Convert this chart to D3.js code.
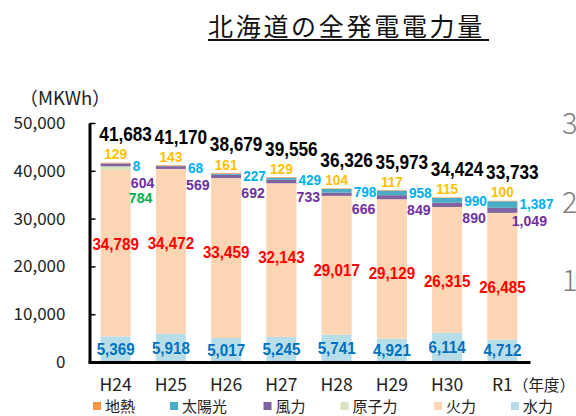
<!DOCTYPE html>
<html><head><meta charset="utf-8">
<script src="https://cdn.jsdelivr.net/npm/d3@7"></script>
<style>body{margin:0;background:#fff;}svg{display:block;}</style>
</head><body>
<script>
const categories = ["H24","H25","H26","H27","H28","H29","H30","R1"];
const hydro      = [5369,5918,5017,5245,5741,4921,6114,4712];
const thermal    = [34789,34472,33459,32143,29017,29129,26315,26485];
const nuclear    = [784,0,0,0,0,0,0,0];
const wind       = [604,569,692,733,666,849,890,1049];
const solar      = [8,68,227,429,798,958,990,1387];
const geothermal = [129,143,161,129,104,117,115,100];
const totals     = [41683,41170,38679,39556,36326,35973,34424,33733];
const yTicks     = [0,10000,20000,30000,40000,50000];
const seriesKeys  = ["hydro","thermal","nuclear","wind","solar","geothermal"];
const seriesNames = ["水力","火力","原子力","風力","太陽光","地熱"];
const legendOrder = ["geothermal","solar","wind","nuclear","thermal","hydro"];
const title = "北海道の全発電電力量";
const unitLabel = "（MKWh）";
const yearLabel = "（年度）";
const sideDigits = ["3","2","1"];

const fillColors = {hydro:"#b7dee8", thermal:"#fcd5b5", nuclear:"#d7e4bd", wind:"#8064a2", solar:"#4bacc6", geothermal:"#f79646"};
const labelColors = {hydro:"#0070c0", thermal:"#ff0000", nuclear:"#00b050", wind:"#7030a0", solar:"#00b0f0", geothermal:"#ffc000"};

const W = 576, H = 416;
const JP = "'Noto Sans CJK JP','Noto Sans',sans-serif";
const NUM = "'Liberation Sans',Arial,sans-serif";
const fmt = d3.format(",");

const svg = d3.select("body").append("svg").attr("width", W).attr("height", H);

const x = d3.scaleBand().domain(categories).range([88, 530]).paddingInner(0.457).paddingOuter(0.2285);
const y = d3.scaleLinear().domain([0, 50000]).range([362, 123]);

const rows = categories.map((c, i) => ({
  cat: c, hydro: hydro[i], thermal: thermal[i], nuclear: nuclear[i],
  wind: wind[i], solar: solar[i], geothermal: geothermal[i], total: totals[i]
}));
const stacked = d3.stack().keys(seriesKeys)(rows);

// Title
svg.append("text").attr("x", 346.5).attr("y", 25).attr("text-anchor", "middle")
  .attr("dominant-baseline", "central").attr("font-family", JP).attr("font-size", 25)
  .attr("letter-spacing", "2.7px").attr("fill", "#111").text(title);
svg.append("line").attr("x1", 208).attr("x2", 489).attr("y1", 40).attr("y2", 40)
  .attr("stroke", "#111").attr("stroke-width", 2);

// Bars
svg.append("g").selectAll("g").data(stacked).join("g")
  .attr("fill", d => fillColors[d.key])
  .selectAll("rect").data(d => d).join("rect")
  .attr("x", d => x(d.data.cat)).attr("width", x.bandwidth())
  .attr("y", d => y(d[1])).attr("height", d => y(d[0]) - y(d[1]));

// Axes
const yAxis = svg.append("g").attr("transform", "translate(89.5,0)")
  .call(d3.axisLeft(y).tickValues(yTicks).tickSize(-6).tickSizeOuter(0).tickPadding(24).tickFormat(fmt));
yAxis.select(".domain").attr("stroke", "#000").attr("stroke-width", 3);
yAxis.selectAll(".tick line").attr("stroke", "#000").attr("stroke-width", 1.5);
yAxis.selectAll(".tick").filter(d => d === 0).select("line").remove();
yAxis.selectAll("text").attr("font-family", JP).attr("font-size", 17).attr("fill", "#222");

const xAxis = svg.append("g").attr("transform", "translate(0,362)")
  .call(d3.axisBottom(x).tickSize(0).tickSizeOuter(0));
xAxis.select(".domain").attr("stroke", "#000").attr("stroke-width", 3);
xAxis.selectAll("text").attr("y", 21.5).attr("dy", null).attr("dominant-baseline", "central")
  .attr("font-family", JP).attr("font-size", 17.5).attr("fill", "#222");

svg.append("text").attr("x", 513).attr("y", 383.5).attr("dominant-baseline", "central")
  .attr("font-family", JP).attr("font-size", 15.5).attr("fill", "#222").text(yearLabel);
svg.append("text").attr("x", 65).attr("y", 97).attr("text-anchor", "middle").attr("dominant-baseline", "central")
  .attr("font-family", JP).attr("font-size", 18.5).attr("fill", "#222").text(unitLabel);

// Value labels
function labels(data, fx, fy, txt, color, size, sx, anchor) {
  svg.append("g").selectAll("text").data(data).join("text")
    .attr("transform", d => `translate(${fx(d)},${fy(d)}) scale(${sx},1)`)
    .attr("text-anchor", anchor).attr("dominant-baseline", "central")
    .attr("font-family", NUM).attr("font-weight", "bold").attr("font-size", size)
    .attr("fill", color).text(txt);
}
const cx = d => x(d.cat) + x.bandwidth() / 2;
const stackTop = d => y(d.hydro + d.thermal + d.nuclear + d.wind + d.solar + d.geothermal);

labels(rows, d => cx(d) + 10, d => stackTop(d) - 28.5, d => fmt(d.total), "#000", 20.5, 0.84, "middle");
labels(rows, d => cx(d), d => stackTop(d) - 8.5, d => fmt(d.geothermal), labelColors.geothermal, 14.5, 0.94, "middle");
labels(rows, d => x(d.cat) + x.bandwidth() + 2, d => stackTop(d) + 3, d => fmt(d.solar), labelColors.solar, 14.5, 0.94, "start");
labels(rows, d => cx(d) + 27, d => stackTop(d) + 20, d => fmt(d.wind), labelColors.wind, 15, 0.94, "middle");
labels(rows.filter(d => d.nuclear > 0), d => cx(d) + 25, d => stackTop(d) + 35, d => fmt(d.nuclear), labelColors.nuclear, 15, 0.94, "middle");
labels(rows, d => cx(d), d => y(d.hydro + d.thermal) + 74, d => fmt(d.thermal), labelColors.thermal, 16.5, 0.92, "middle");
labels(rows, d => cx(d), d => y(d.hydro / 2), d => fmt(d.hydro), labelColors.hydro, 16.5, 0.92, "middle");

// Legend
const lg = svg.append("g").attr("transform", "translate(93,405.5)");
let lx = 0;
legendOrder.forEach(k => {
  const name = seriesNames[seriesKeys.indexOf(k)];
  lg.append("rect").attr("x", lx).attr("y", -3.5).attr("width", 8).attr("height", 8).attr("fill", fillColors[k]);
  lg.append("text").attr("x", lx + 12).attr("y", 0).attr("dominant-baseline", "central")
    .attr("font-family", JP).attr("font-size", 15).attr("fill", "#222").text(name);
  lx += 12 + 16.5 * name.length + 32;
});

// Cut-off digits of an adjacent chart on the right edge
svg.append("g").selectAll("text").data(sideDigits).join("text")
  .attr("x", 562).attr("y", (d, i) => 121 + i * 78.5).attr("dominant-baseline", "central")
  .attr("font-family", JP).attr("font-weight", 300).attr("font-size", 29).attr("fill", "#7f7f7f").text(d => d);
</script>
</body></html>
